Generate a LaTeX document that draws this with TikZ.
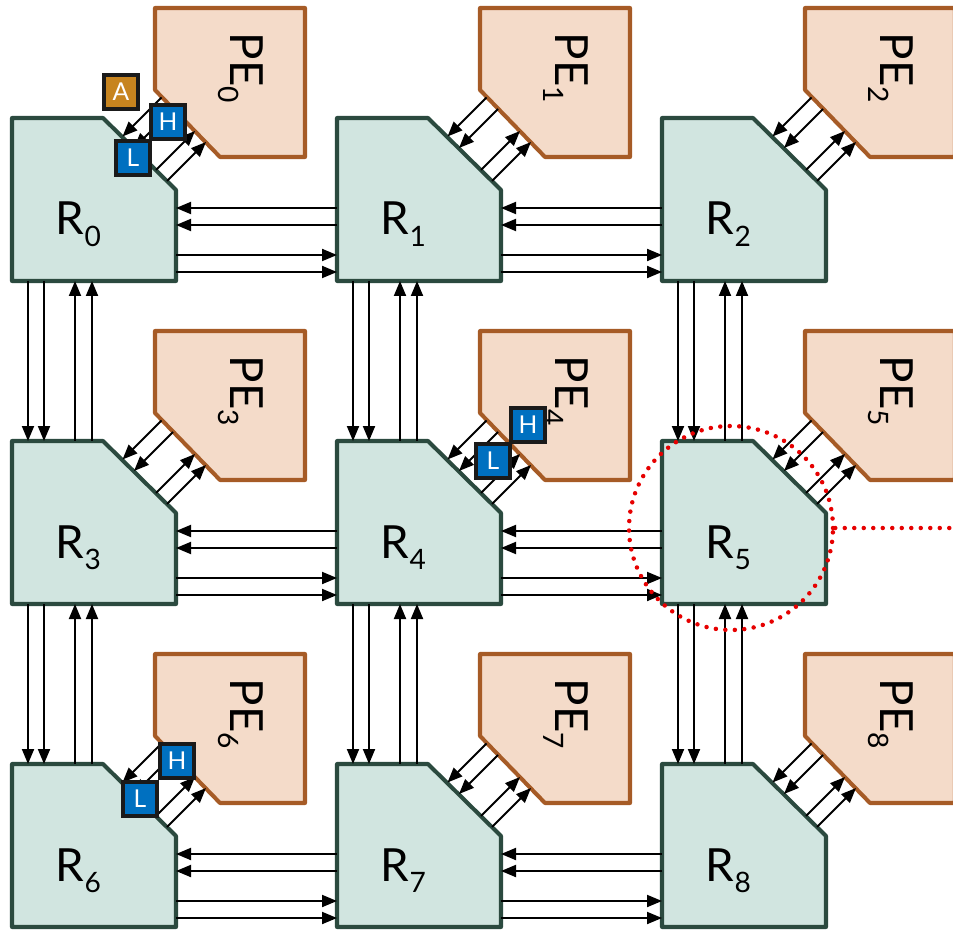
\documentclass[tikz,border=0pt]{standalone}
\usepackage{fontspec}
\setmainfont{Lato}
\usetikzlibrary{positioning, arrows.meta, calc}
\definecolor{routerfill}{RGB}{209,229,224}
\definecolor{routerline}{RGB}{43,74,63}
\definecolor{pefill}{RGB}{244,219,201}
\definecolor{peline}{RGB}{166,91,38}
\definecolor{hlblue}{RGB}{0,112,192}
\definecolor{aorange}{RGB}{199,132,31}
\definecolor{flagline}{RGB}{26,26,26}
\definecolor{dotred}{RGB}{230,0,0}
\newcommand{\idx}[2]{#1\raisebox{-6.5pt}{\fontsize{16}{16}\selectfont #2}}

\begin{document}
\begin{tikzpicture}[>={Triangle[length=0.3cm, width=0.24cm]}, node distance=3.22cm, line width=1.1pt,
    router/.style={minimum width=3.28cm, minimum height=3.26cm, inner sep=0pt, outer sep=0pt},
    pe/.style={minimum width=3cm, minimum height=2.98cm, inner sep=0pt, outer sep=0pt, anchor=north west},
    routerbody/.style={draw=routerline, fill=routerfill, line width=2.3pt, line join=round},
    pebody/.style={draw=peline, fill=pefill, line width=2.3pt, line join=round},
    boxlabel/.style={inner sep=0pt, anchor=base west, font=\fontsize{26}{26}\selectfont},
    flag/.style={draw=flagline, line width=2.3pt, minimum size=0.67cm, inner sep=0pt, text=white, font=\fontsize{14}{14}\selectfont},
    ring/.style={circle, draw=dotred, line width=0.09cm, dash pattern=on 0pt off 0.19cm, line cap=round, minimum size=4.08cm, inner sep=0pt}]
  \useasboundingbox (0,0) rectangle (19.06,-18.6);

  % routers
  \node[router] (R0) at (1.88,-3.99) {};
  \node[router] (R1) [right=of R0] {};
  \node[router] (R2) [right=of R1] {};
  \node[router] (R3) [below=3.2cm of R0] {};
  \node[router] (R4) [right=of R3] {};
  \node[router] (R5) [right=of R4] {};
  \node[router] (R6) [below=3.2cm of R3] {};
  \node[router] (R7) [right=of R6] {};
  \node[router] (R8) [right=of R7] {};

  % processing elements
  \foreach \i in {0,...,8}
    \node[pe] (PE\i) at ($(R\i.north west)+(2.86,2.2)$) {};

  % cut-corner outlines
  \foreach \i in {0,...,8} {
    \draw[routerbody] (R\i.south west) -- (R\i.north west) -- ($(R\i.north east)+(-1.46,0)$)
      -- ($(R\i.north east)+(0,-1.44)$) -- (R\i.south east) -- cycle;
    \draw[pebody] (PE\i.north west) -- (PE\i.north east) -- (PE\i.south east)
      -- ($(PE\i.south west)+(1.3,0)$) -- ($(PE\i.south west)+(0,1.34)$) -- cycle;
  }

  \foreach \i in {0,...,8} {
    \node[boxlabel] (r\i) at ($(R\i.north west)+(0.86,-2.34)$) {\idx{R}{\i}};
    \node[boxlabel, rotate=-90] (p\i) at ($(PE\i.north west)+(1.5,-0.48)$) {\idx{PE}{\i}};
  }

  % router to router
  \foreach \a/\b in {0/1,1/2,3/4,4/5,6/7,7/8} {
    \foreach \h in {1.46,1.12}
      \draw[<-] ($(R\a.south east)+(0,\h)$) -- ($(R\b.south west)+(0,\h)$);
    \foreach \h in {0.52,0.18}
      \draw[->] ($(R\a.south east)+(0,\h)$) -- ($(R\b.south west)+(0,\h)$);
  }
  \foreach \a/\b in {0/3,3/6,1/4,4/7,2/5,5/8} {
    \foreach \w in {0.32,0.64}
      \draw[->] ($(R\a.south west)+(\w,0)$) -- ($(R\b.north west)+(\w,0)$);
    \foreach \w in {1.26,1.6}
      \draw[<-] ($(R\a.south west)+(\w,0)$) -- ($(R\b.north west)+(\w,0)$);
  }

  % PE to router
  \foreach \i in {0,...,8} {
    \draw[->] ($(PE\i.north west)+(0.13,-1.79)$) -- ($(R\i.north west)+(2.21,-0.37)$);
    \draw[->] ($(PE\i.north west)+(0.36,-2.02)$) -- ($(R\i.north west)+(2.44,-0.6)$);
    \draw[->] ($(R\i.north west)+(2.88,-1.04)$) -- ($(PE\i.north west)+(0.8,-2.46)$);
    \draw[->] ($(R\i.north west)+(3.1,-1.26)$) -- ($(PE\i.north west)+(1.02,-2.68)$);
  }

  % H / L / A flags
  \node[flag, fill=aorange] (A0) at ($(R0.north west)+(2.18,0.52)$) {A};
  \node[flag, fill=hlblue] (H0) at ($(R0.north west)+(3.12,-0.08)$) {H};
  \node[flag, fill=hlblue] (L0) at ($(R0.north west)+(2.42,-0.8)$) {L};
  \node[flag, fill=hlblue] (H4) at ($(R4.north west)+(3.82,0.32)$) {H};
  \node[flag, fill=hlblue] (L4) at ($(R4.north west)+(3.12,-0.4)$) {L};
  \node[flag, fill=hlblue] (H6) at ($(R6.north west)+(3.3,0.06)$) {H};
  \node[flag, fill=hlblue] (L6) at ($(R6.north west)+(2.56,-0.7)$) {L};

  % zoom ring
  \node[ring] (ring) at ($(R5.center)+(-0.26,-0.11)$) {};
  \coordinate (rim) at (19.06,0);
  \draw[dotred, line width=0.09cm, dash pattern=on 0pt off 0.19cm, line cap=round] (ring.east) -- (ring.east -| rim);
\end{tikzpicture}
\end{document}
